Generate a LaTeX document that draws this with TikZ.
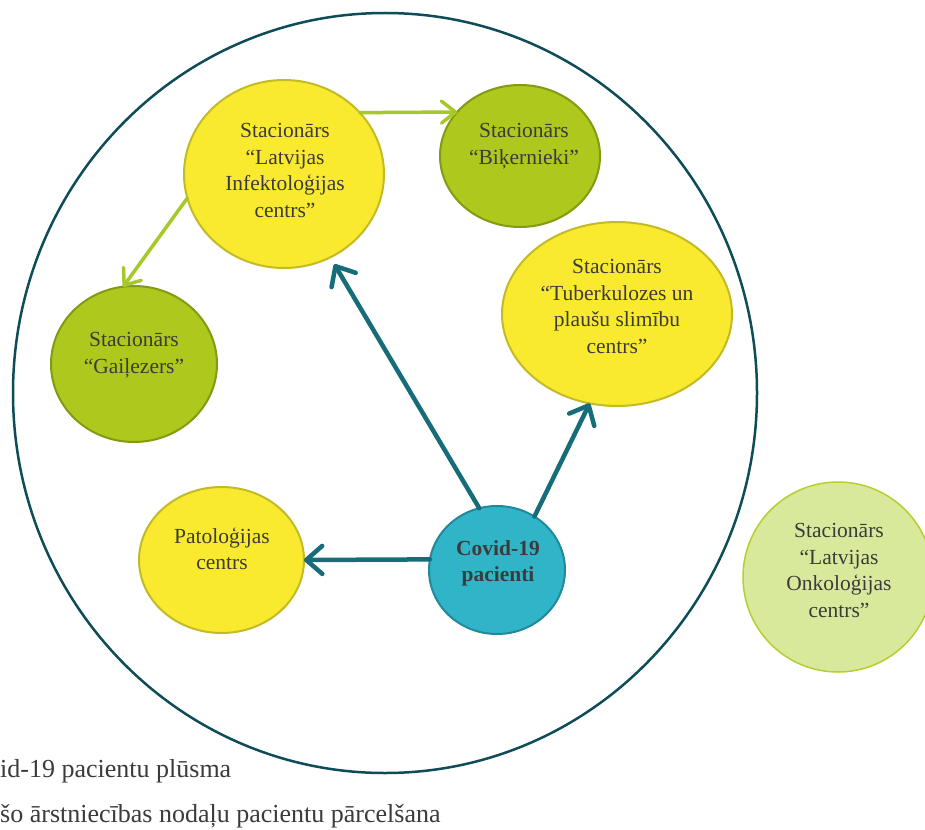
\documentclass[tikz,border=0pt]{standalone}
\usepackage{fontspec}
\setmainfont{Liberation Serif}
\usetikzlibrary{arrows.meta,shapes.geometric}
\definecolor{ringc}{HTML}{0E4D58}
\definecolor{yelfill}{HTML}{F9EA30}
\definecolor{yeldraw}{HTML}{C2BB25}
\definecolor{grnfill}{HTML}{AEC81E}
\definecolor{grndraw}{HTML}{819C12}
\definecolor{tealfill}{HTML}{30B4C7}
\definecolor{tealdraw}{HTML}{20899A}
\definecolor{lgfill}{HTML}{D9E99B}
\definecolor{lgdraw}{HTML}{B5CF30}
\definecolor{tealarrow}{HTML}{176C79}
\definecolor{grnarrow}{HTML}{A6C828}
\definecolor{txtc}{HTML}{3B3B3B}
\tikzset{
  bub/.style={ellipse, inner sep=0pt, outer sep=0pt, line width=2pt},
  yelbub/.style={bub, fill=yelfill, draw=yeldraw},
  grnbub/.style={bub, fill=grnfill, draw=grndraw},
  tealbub/.style={bub, fill=tealfill, draw=tealdraw},
  lgbub/.style={bub, fill=lgfill, draw=lgdraw, line width=1.5pt},
  txt/.style={inner sep=0pt, align=center, text=txtc, font={\fontsize{21.5}{26.5}\selectfont}},
  legend/.style={inner sep=0pt, anchor=base west, text=txtc, font={\fontsize{26}{30}\selectfont}},
  tealarr/.style={draw=tealarrow, line width=4.5pt, line cap=round, -{Straight Barb[length=16pt,width=28pt,round]}},
  grnarr/.style={draw=grnarrow, line width=3.5pt, line cap=round, -{Straight Barb[length=14pt,width=22pt,round]}},
}
\begin{document}
\begin{tikzpicture}[x=1pt,y=-1pt]
\useasboundingbox (0,0) rectangle (925,829);
\clip (0,0) rectangle (925,829);
\fill[white] (0,0) rectangle (925,829);
% outer ring
\draw[draw=ringc, line width=2.5pt] (385,393) ellipse [x radius=372, y radius=380];
% bubbles
\node[yelbub, minimum width=200pt, minimum height=188pt] (inf) at (284,174) {};
\node[grnbub, minimum width=160pt, minimum height=142pt] (bik) at (520,156) {};
\node[yelbub, minimum width=230pt, minimum height=184pt] (tub) at (617,314) {};
\node[grnbub, minimum width=166pt, minimum height=156pt] (gai) at (134,364) {};
\node[yelbub, minimum width=165pt, minimum height=146pt] (pat) at (221.5,560) {};
\node[tealbub, minimum width=136pt, minimum height=128pt] (cov) at (497,570) {};
\node[lgbub, minimum width=190pt, minimum height=190pt] (onk) at (838,577) {};
% texts
\node[txt] (infT) at (285,172) {\strut Stacionārs\\\strut “Latvijas\\\strut Infektoloģijas\\\strut centrs”};
\node[txt] (bikT) at (524,145.6) {\strut Stacionārs\\\strut “Biķernieki”};
\node[txt] (tubT) at (617,308) {\strut Stacionārs\\\strut “Tuberkulozes un\\\strut plaušu slimību\\\strut centrs”};
\node[txt] (gaiT) at (134,354.6) {\strut Stacionārs\\\strut “Gaiļezers”};
\node[txt] (patT) at (222,551) {\strut Patoloģijas\\\strut centrs};
\node[txt, font={\fontsize{21.5}{26.5}\selectfont\bfseries}] (covT) at (498,563) {\strut Covid-19\\\strut pacienti};
\node[txt] (onkT) at (839,572) {\strut Stacionārs\\\strut “Latvijas\\\strut Onkoloģijas\\\strut centrs”};
% arrows
\draw[tealarr, shorten >=8pt] (cov.106) -- (inf.-61);
\draw[tealarr] (cov.55) -- (tub.-107.6);
\draw[tealarr] (cov.171.6) -- (pat.east);
\draw[grnarr] (inf.39) -- (bik.145);
\draw[grnarr] (inf.194.6) -- (gai.98.9);
% legend
\node[legend] (leg1) at (0,777) {id-19 pacientu plūsma};
\node[legend] (leg2) at (0,822) {šo ārstniecības nodaļu pacientu pārcelšana};
\end{tikzpicture}
\end{document}
